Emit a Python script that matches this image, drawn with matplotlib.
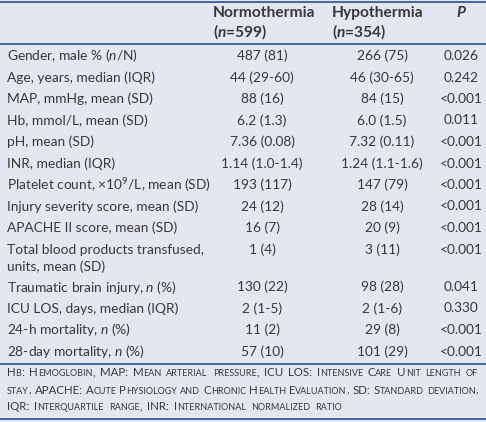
import matplotlib
matplotlib.use("Agg")
import matplotlib.pyplot as plt
from matplotlib.offsetbox import TextArea, HPacker, AnnotationBbox

FONT = "Lato"
plt.rcParams['font.family'] = [FONT, 'DejaVu Sans']
plt.rcParams['mathtext.fontset'] = 'custom'
plt.rcParams['mathtext.rm'] = FONT
plt.rcParams['mathtext.it'] = FONT + ':italic'
plt.rcParams['mathtext.bf'] = FONT + ':bold'
plt.rcParams['mathtext.bfit'] = FONT + ':italic:bold'

# table content
headers = ["Normothermia", "Hypothermia"]
header_n = [r"($\mathbfit{n}$=599)", r"($\mathbfit{n}$=354)"]
labels = [
    r"Gender, male % ($n$/N)",
    "Age, years, median (IQR)",
    "MAP, mmHg, mean (SD)",
    "Hb, mmol/L, mean (SD)",
    "pH, mean (SD)",
    "INR, median (IQR)",
    r"Platelet count, ×10$^{9}$/L, mean (SD)",
    "Injury severity score, mean (SD)",
    "APACHE II score, mean (SD)",
    "Total blood products transfused,\nunits, mean (SD)",
    r"Traumatic brain injury, $n$ (%)",
    "ICU LOS, days, median (IQR)",
    r"24-h mortality, $n$ (%)",
    r"28-day mortality, $n$ (%)",
]
normo = ["487 (81)", "44 (29-60)", "88 (16)", "6.2 (1.3)", "7.36 (0.08)",
         "1.14 (1.0-1.4)", "193 (117)", "24 (12)", "16 (7)", "1 (4)",
         "130 (22)", "2 (1-5)", "11 (2)", "57 (10)"]
hypo = ["266 (75)", "46 (30-65)", "84 (15)", "6.0 (1.5)", "7.32 (0.11)",
        "1.24 (1.1-1.6)", "147 (79)", "28 (14)", "20 (9)", "3 (11)",
        "98 (28)", "2 (1-6)", "29 (8)", "101 (29)"]
pvals = ["0.026", "0.242", "<0.001", "0.011", "<0.001", "<0.001", "<0.001",
         "<0.001", "<0.001", "<0.001", "0.041", "0.330", "<0.001", "<0.001"]
footnote = [
    "Hb: Hemoglobin, MAP: Mean arterial pressure, ICU LOS: Intensive Care Unit length of",
    "stay, APACHE: Acute Physiology and Chronic Health Evaluation, SD: Standard deviation,",
    "IQR: Interquartile range, INR: International normalized ratio",
]

BG = "#e4e7f1"
LINE = "#2e5f98"
TXT = "#383838"
FS = 9.9
HFS = 11.2

W, H = 486, 422
fig = plt.figure(figsize=(W / 100, H / 100), dpi=100, facecolor=BG)
ax = fig.add_axes([0, 0, 1, 1])
ax.set_xlim(0, W)
ax.set_ylim(H, 0)
ax.axis("off")

# horizontal rules
for y in [1.5, 43.5, 364, 419]:
    ax.axhline(y, color=LINE, lw=1.3)

# header
col_x = [262, 382, 461]
head_x = [213, 332]
for hx, h, hn in zip(head_x, headers, header_n):
    ax.text(hx, 13, h, ha="left", va="center", fontsize=HFS, fontweight="bold", color=TXT)
    ax.text(hx, 32, hn, ha="left", va="center", fontsize=HFS, fontweight="bold", color=TXT)
ax.text(col_x[2], 13, "P", ha="center", va="center", fontsize=HFS,
        fontweight="bold", style="italic", color=TXT)

# body rows
y = 56
for lab, a, b, p in zip(labels, normo, hypo, pvals):
    lines = lab.split("\n")
    for k, ln in enumerate(lines):
        ax.text(7, y + k * 17, ln, ha="left", va="center", fontsize=FS, color=TXT)
    ax.text(col_x[0], y, a, ha="center", va="center", fontsize=FS, color=TXT)
    ax.text(col_x[1], y, b, ha="center", va="center", fontsize=FS, color=TXT)
    ax.text(col_x[2], y, p, ha="center", va="center", fontsize=FS, color=TXT)
    y += 21.5 + (len(lines) - 1) * 16


# footnote in small caps
def sc_word(word, big=8.3, small=6.5):
    runs = []
    cur, cur_low = "", None
    for ch in word:
        low = ch.islower()
        if cur and low != cur_low:
            runs.append((cur, cur_low))
            cur = ""
        cur += ch
        cur_low = low
    runs.append((cur, cur_low))
    boxes = [TextArea(t.upper(), textprops=dict(fontsize=small if lo else big, color=TXT))
             for t, lo in runs]
    return HPacker(children=boxes, align="baseline", pad=0, sep=0)


for i, line in enumerate(footnote):
    words = [sc_word(w) for w in line.split(" ")]
    if i < len(footnote) - 1:
        box = HPacker(children=words, align="baseline", pad=0, mode="expand", width=471)
    else:
        box = HPacker(children=words, align="baseline", pad=0, sep=3.6)
    ab = AnnotationBbox(box, (7, 373 + i * 17), xycoords="data", box_alignment=(0, 0.5),
                        frameon=False, pad=0)
    ax.add_artist(ab)

fig.savefig("out.png", dpi=100, facecolor=BG)
